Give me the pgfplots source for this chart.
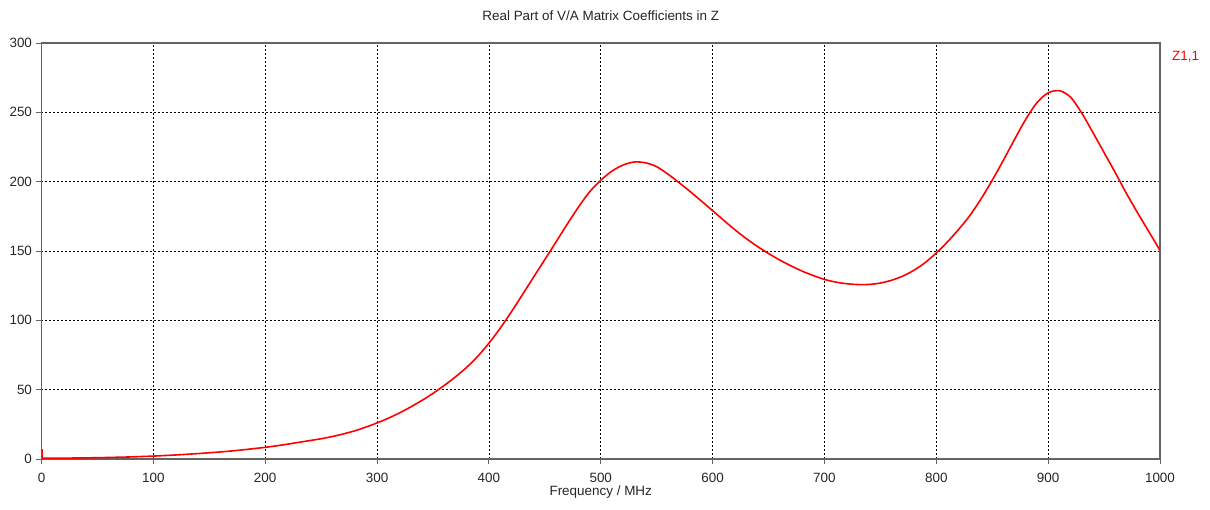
\documentclass[border=0pt]{standalone}
\usepackage{pgfplots}
\pgfplotsset{compat=1.18}
\usepackage{fontspec}
\setmainfont{Liberation Sans}

\definecolor{axisgray}{RGB}{100,100,100}
\definecolor{curvered}{RGB}{255,0,0}

% Re(Z1,1) in ohms against frequency in MHz
\pgfplotstableread{
f    z
1    0.6
10   0.6
20   0.65
30   0.7
40   0.8
50   0.95
60   1.1
70   1.3
80   1.5
90   1.8
100  2.1
110  2.5
120  2.9
130  3.4
140  3.9
150  4.5
160  5.1
170  5.8
180  6.6
190  7.5
200  8.4
210  9.5
220  10.7
230  12.0
240  13.3
250  14.6
260  16.2
270  18.1
280  20.3
290  23.0
300  26.0
310  29.4
320  33.2
330  37.5
340  42.2
350  47.3
360  53.0
370  59.2
380  66.0
390  74.0
400  83.5
410  94.2
420  106.0
430  118.5
440  131.2
450  143.8
460  156.5
470  169.3
480  181.6
490  192.6
500  201.0
510  207.6
520  212.0
530  214.2
540  213.6
550  210.8
560  205.5
570  199.3
580  192.8
590  186.0
600  179.1
610  172.1
620  165.3
630  159.0
640  153.3
650  148.2
660  143.5
670  139.3
680  135.5
690  132.3
700  129.5
710  127.6
720  126.4
730  125.8
740  125.9
750  126.9
760  128.9
770  131.9
780  136.1
790  141.6
800  148.6
810  156.6
820  165.6
830  175.6
840  187.6
850  201.0
860  215.5
870  230.5
880  245.0
890  257.0
900  264.0
910  265.6
920  261.0
930  249.5
940  235.5
950  221.0
960  206.5
970  191.5
980  177.5
990  164.0
1000 150.5
}\zdata

\begin{document}
\begin{tikzpicture}
\path[use as bounding box] (-41.5bp,-51bp) rectangle (1168.5bp,459bp);
\begin{axis}[
  name=zplot,
  at={(0,0)}, anchor=south west,
  scale only axis,
  width=1118.5bp, height=416bp,
  xmin=0, xmax=1000, ymin=0, ymax=300,
  xtick={0,100,...,1000},
  ytick={0,50,...,300},
  tick pos=left,
  tick align=outside,
  major tick length=5bp,
  every tick/.style={axisgray, line width=0.8bp},
  axis line style={axisgray, line width=1.3bp},
  grid=major,
  major grid style={black, dash pattern=on 2bp off 2bp, line width=0.7bp},
  /pgf/number format/assume math mode=true,
  /pgf/number format/1000 sep={},
  tick label style={font=\fontsize{13.5}{15}\selectfont, black!85},
  xticklabel style={anchor=base, yshift=-18bp},
  yticklabel style={xshift=-1bp},
  title={Real Part of V/A Matrix Coefficients in Z},
  title style={font=\fontsize{13.5}{15}\selectfont, black!85,
    at={(axis description cs:0.5,1)}, anchor=base, yshift=17bp},
  xlabel={Frequency / MHz},
  xlabel style={font=\fontsize{13.5}{15}\selectfont, black!85,
    at={(axis description cs:0.5,0)}, anchor=base, yshift=-36bp},
]
% short transient at the origin
\addplot[curvered, line width=1.6bp, mark=none] coordinates {(0.8,7) (0.8,0.6) (1,0.6)};
\addplot[curvered, line width=1.6bp, mark=none, smooth, tension=0.5] table[x=f, y=z] {\zdata};
\end{axis}
% curve name beside the plot frame
\node[anchor=west, text=curvered, font=\fontsize{13.5}{15}\selectfont, inner sep=0pt]
  at ([xshift=12bp, yshift=-14bp]zplot.north east) {Z1,1};
\end{tikzpicture}
\end{document}
